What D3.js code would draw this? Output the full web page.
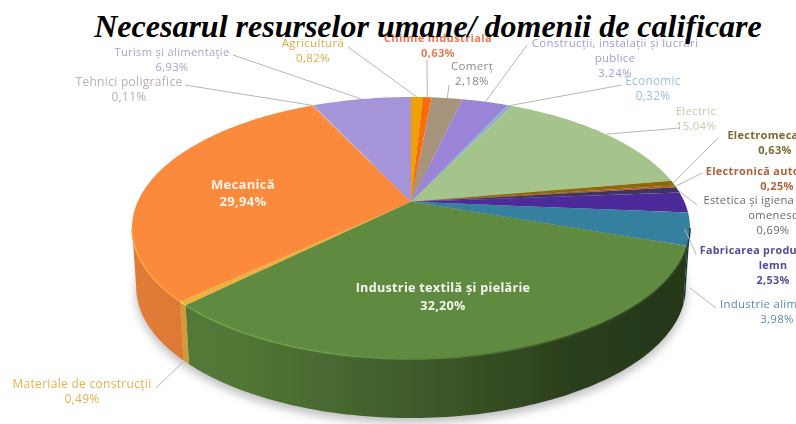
<!DOCTYPE html>
<html>
<head>
<meta charset="utf-8">
<script src="https://cdn.jsdelivr.net/npm/d3@7"></script>
<style>
  html, body { margin: 0; padding: 0; background: #fff; overflow: hidden; }
  .chart { width: 796px; height: 424px; overflow: hidden; }
  text { font-family: "Open Sans", sans-serif; }
</style>
</head>
<body>
<div class="chart"></div>
<script>
const categories = [
  "Agricultură", "Chimie industrială", "Comerț", "Construcții, instalații și lucrări publice",
  "Economic", "Electric", "Electromecanică", "Electronică automatizări",
  "Estetica și igiena corpului omenesc", "Fabricarea produselor din lemn", "Industrie alimentară",
  "Industrie textilă și pielărie", "Materiale de construcții", "Mecanică",
  "Tehnici poligrafice", "Turism și alimentație"
];
const values = [0.82, 0.63, 2.18, 3.24, 0.32, 15.04, 0.63, 0.25, 0.69, 2.53, 3.98, 32.20, 0.49, 29.94, 0.11, 6.93];
const valueLabels = ["0,82%", "0,63%", "2,18%", "3,24%", "0,32%", "15,04%", "0,63%", "0,25%", "0,69%", "2,53%", "3,98%", "32,20%", "0,49%", "29,94%", "0,11%", "6,93%"];
const sliceColors = ["#f0a000", "#f96d10", "#a8937c", "#9a85d8", "#8eb0c4", "#a5c48c", "#8a6a10", "#b05a18", "#3f3560", "#4e2a9a", "#357f9f", "#5f8a3f", "#f0b040", "#fb8a3d", "#c9a0a0", "#a594d8"];

const width = 796, height = 424;

// label placement: centre x, first line y, line breaks, colour, bold, leader line
const labelLayout = [
  { x: 313, y: 47, size: 11.6, lines: ["Agricultură"], color: "#d9ad4a", elbow: [348, 47] },
  { x: 438, y: 42, size: 11.2, lines: ["Chimie industrială"], color: "#ee7a50", bold: true, elbow: [427, 60] },
  { x: 472, y: 70, size: 11.6, lines: ["Comerț"], color: "#8e8a85", elbow: [449, 85] },
  { x: 615, y: 47, size: 11.4, lines: ["Construcții, instalații și lucrări", "publice"], color: "#a79ad8", elbow: [527, 45] },
  { x: 653, y: 85, size: 11.8, lines: ["Economic"], color: "#9fc0d8", elbow: [622, 85] },
  { x: 696, y: 115, size: 11.4, lines: ["Electric"], color: "#b8cfa8", elbow: [680, 128] },
  { x: 775, y: 139, size: 11, lines: ["Electromecanică"], color: "#7a6a30", bold: true, elbow: [718, 138] },
  { x: 777, y: 175, size: 11, lines: ["Electronică automatizări"], color: "#b0623a", bold: true, elbow: [702, 173] },
  { x: 773, y: 204, size: 11.2, lines: ["Estetica și igiena corpului", "omenesc"], color: "#6a6a6a", elbow: [697, 205] },
  { x: 773, y: 254, size: 10.8, lines: ["Fabricarea produselor din", "lemn"], color: "#5a4a9a", bold: true, elbow: [696, 254], wall: 0.45 },
  { x: 777, y: 308, size: 11.4, lines: ["Industrie alimentară"], color: "#5a8aa8", elbow: [716, 308], wall: 1 },
  { x: 443, y: 292, size: 12.6, gap: 18, lines: ["Industrie textilă și pielărie"], color: "#f4f8ee", bold: true },
  { x: 82, y: 388, size: 12, lines: ["Materiale de construcții"], color: "#e8b04c", elbow: [156, 388], wall: 1 },
  { x: 243, y: 189, size: 13, gap: 17, lines: ["Mecanică"], color: "#fff3e8", bold: true },
  { x: 129, y: 86, size: 12, lines: ["Tehnici poligrafice"], color: "#b8b0ac", elbow: [185, 85] },
  { x: 172, y: 56, size: 11.2, lines: ["Turism și alimentație"], color: "#a9a3c9", elbow: [233, 55] }
];

// top ellipse of the pie and how far the apex sits behind its centre
const cx = 411, cy = 228, rx = 279, ry = 131, depth = 59, tilt = 0.2;
const bottomShrink = 0.985; // lower rim is a bit narrower, seen from above

const xScale = d3.scaleLinear().domain([-1, 1]).range([cx - rx, cx + rx]);
const yScale = d3.scaleLinear().domain([-1, 1]).range([cy - ry, cy + ry]);

// point on the pie for an angle (clockwise from 12 o'clock) and radius 0..1, with perspective
function project(angle, r) {
  const u = r * Math.sin(angle), v = -r * Math.cos(angle);
  const w = 1 - tilt * v;
  return [
    xScale((u * Math.sqrt(1 - tilt * tilt)) / w),
    yScale((v - tilt) / w)
  ];
}

function lower(p) {
  return [cx + (p[0] - cx) * bottomShrink, p[1] + depth];
}

function sampleArc(a0, a1) {
  const n = Math.max(2, Math.ceil((a1 - a0) / 0.02));
  return d3.range(n + 1).map((i) => a0 + ((a1 - a0) * i) / n);
}

const slices = d3.pie().sort(null).startAngle(0).endAngle(2 * Math.PI)(values);
const line = d3.line();

const svg = d3
  .select(".chart")
  .append("svg")
  .attr("width", width)
  .attr("height", height);

const defs = svg.append("defs");
defs.append("filter").attr("id", "shadow")
  .attr("x", "-10%").attr("y", "-10%").attr("width", "120%").attr("height", "120%")
  .append("feGaussianBlur").attr("stdDeviation", 5);
defs.append("filter").attr("id", "soft")
  .attr("x", "-5%").attr("y", "-5%").attr("width", "110%").attr("height", "110%")
  .append("feGaussianBlur").attr("stdDeviation", 0.7);
defs.append("filter").attr("id", "softText")
  .attr("filterUnits", "userSpaceOnUse")
  .attr("x", 0).attr("y", 0).attr("width", width).attr("height", height)
  .append("feGaussianBlur").attr("stdDeviation", 0.55);

function addGradient(id, color, stops) {
  const g = defs.append("linearGradient").attr("id", id)
    .attr("gradientUnits", "userSpaceOnUse")
    .attr("x1", cx - rx).attr("x2", cx + rx).attr("y1", 0).attr("y2", 0);
  stops.forEach(([offset, k]) => {
    g.append("stop").attr("offset", offset).attr("stop-color", d3.color(color).darker(k).formatHex());
  });
}

sliceColors.forEach((c, i) => {
  addGradient("wall" + i, c, [[0, 0.3], [0.2, 0.45], [0.5, 1.15], [0.8, 2.3], [1, 2.6]]);
  addGradient("rim" + i, c, [[0, -0.5], [0.35, -0.35], [0.6, 0.3], [0.8, 1.6], [1, 2]]);
});

// soft shadow under the pie
const outline = sampleArc(0, 2 * Math.PI).map((a) => {
  const p = lower(project(a, 1));
  return [p[0], p[1] + 5];
});
svg.append("path")
  .attr("d", line(outline) + "Z")
  .attr("fill", "#bdbdbd")
  .attr("filter", "url(#shadow)");

const pieGroup = svg.append("g").attr("filter", "url(#soft)");

// front wall only shows between the left and right ends of the ellipse
const wallStart = Math.acos(-tilt), wallEnd = 2 * Math.PI - wallStart;
const frontSlices = slices
  .map((d) => ({ index: d.index, a0: Math.max(d.startAngle, wallStart), a1: Math.min(d.endAngle, wallEnd) }))
  .filter((d) => d.a1 > d.a0);

pieGroup.selectAll("path.wall")
  .data(frontSlices)
  .enter()
  .append("path")
  .attr("class", "wall")
  .attr("fill", (d) => `url(#wall${d.index})`)
  .attr("d", (d) => {
    const top = sampleArc(d.a0, d.a1).map((a) => project(a, 1));
    const bottom = top.map(lower).reverse();
    return line(top.concat(bottom)) + "Z";
  });

pieGroup.selectAll("path.top")
  .data(slices)
  .enter()
  .append("path")
  .attr("class", "top")
  .attr("fill", (d) => sliceColors[d.index])
  .attr("d", (d) => {
    const rimPoints = sampleArc(d.startAngle, d.endAngle).map((a) => project(a, 1));
    return line([project(0, 0)].concat(rimPoints)) + "Z";
  });

pieGroup.selectAll("path.rim")
  .data(frontSlices)
  .enter()
  .append("path")
  .attr("class", "rim")
  .attr("fill", "none")
  .attr("stroke", (d) => `url(#rim${d.index})`)
  .attr("stroke-width", 1.6)
  .attr("d", (d) => line(sampleArc(d.a0, d.a1).map((a) => project(a, 1))));

// leader lines from the middle of each slice's rim to its label
const leaders = labelLayout
  .map((l, i) => ({ l, i }))
  .filter((d) => d.l.elbow);

svg.append("g")
  .attr("filter", "url(#softText)")
  .selectAll("path")
  .data(leaders)
  .enter()
  .append("path")
  .attr("fill", "none")
  .attr("stroke", "#b5b5b5")
  .attr("stroke-width", 1)
  .attr("d", (d) => {
    const s = slices[d.i];
    const p = project((s.startAngle + s.endAngle) / 2, 1);
    const start = [p[0], p[1] + (d.l.wall || 0) * depth];
    return line([start, d.l.elbow]);
  });

// labels
const labelGroup = svg.append("g").attr("filter", "url(#softText)");
labelLayout.forEach((l, i) => {
  const t = labelGroup.append("text")
    .attr("text-anchor", "middle")
    .attr("font-size", l.size)
    .attr("font-weight", l.bold ? 700 : 400)
    .attr("letter-spacing", 0.3)
    .attr("fill", l.color);
  l.lines.concat(valueLabels[i]).forEach((s, j) => {
    t.append("tspan").attr("x", l.x).attr("y", l.y + j * (l.gap || 15)).text(s);
  });
});

svg.append("text")
  .attr("x", 428)
  .attr("y", 37)
  .attr("text-anchor", "middle")
  .attr("font-size", 32)
  .attr("font-weight", 700)
  .attr("font-style", "italic")
  .style("font-family", '"Liberation Serif", serif')
  .attr("fill", "#000")
  .text("Necesarul resurselor umane/ domenii de calificare");
</script>
</body>
</html>
